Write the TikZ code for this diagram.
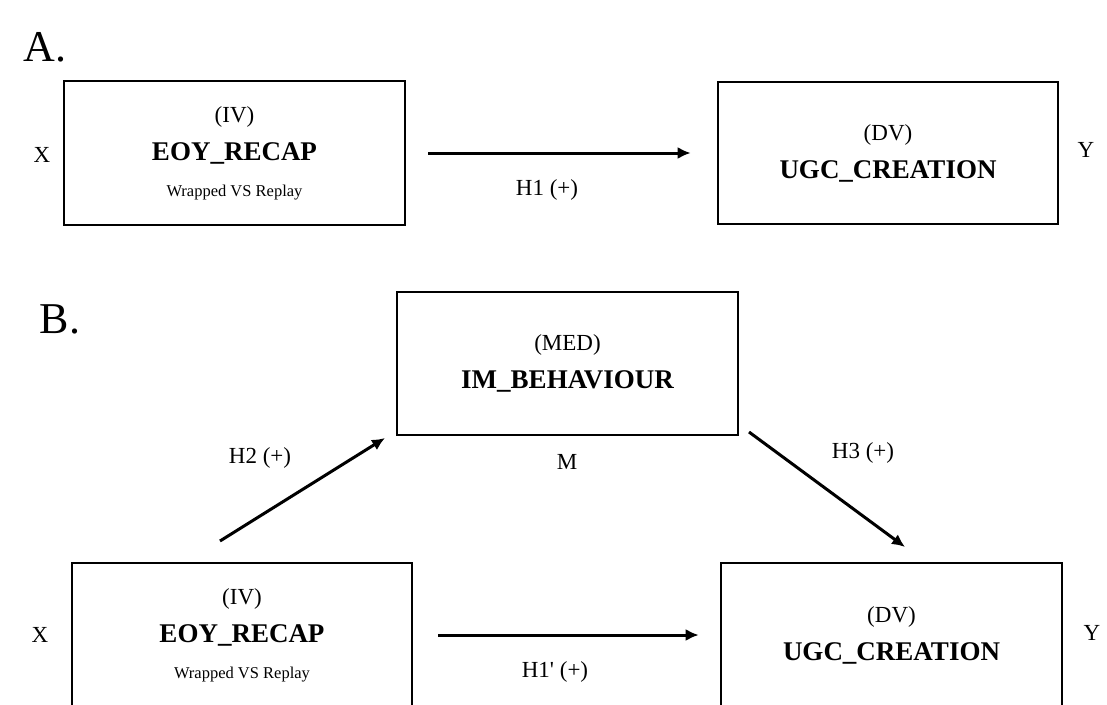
\documentclass[tikz,border=0pt]{standalone}
\usepackage{fontspec}
\setmainfont{Liberation Serif}
\usepackage{tikz}
\usetikzlibrary{arrows.meta,positioning}

\begin{document}
\begin{tikzpicture}[x=1pt,y=-1pt,
 b/.style={draw,line width=2.6pt,align=center,inner sep=0pt,minimum width=341pt,minimum height=144pt,font=\fontsize{23}{28}\selectfont},
 ar/.style={-{Latex[length=13pt,width=12pt]},line width=3pt},
 lb/.style={font=\fontsize{23}{26}\selectfont},
 sec/.style={font=\fontsize{44}{48}\selectfont}]
\clip (0,0) rectangle (1107,704);
% section A
\node[sec] (secA) at (45,47) {A.};
\node[b] (ivA) at (234.5,153) {(IV)\\[10pt] {\fontsize{27}{28}\selectfont\bfseries EOY\_RECAP}\\[8pt] {\fontsize{16.5}{20}\selectfont Wrapped VS Replay}};
\node[b,minimum width=340pt,minimum height=142pt] (dvA) at (888,153) {(DV)\\[10pt] {\fontsize{27}{28}\selectfont\bfseries UGC\_CREATION}};
\node[lb] (xA) at (42,155) {X};
\node[lb] (yA) at (1086,150) {Y};
\draw[ar,shorten <=22pt,shorten >=26pt] (ivA) -- (dvA);
\node[lb] (h1) at (547,190) {H1 (+)};
% section B
\node[sec] (secB) at (60,319) {B.};
\node[b,minimum height=143pt] (med) at (567.5,363.5) {(MED)\\[10pt] {\fontsize{27}{28}\selectfont\bfseries IM\_BEHAVIOUR}};
\node[lb] (mB) at (567,462) {M};
\node[b,minimum width=340pt] (ivB) at (242,635) {(IV)\\[10pt] {\fontsize{27}{28}\selectfont\bfseries EOY\_RECAP}\\[8pt] {\fontsize{16.5}{20}\selectfont Wrapped VS Replay}};
\node[b] (dvB) at (891.5,635) {(DV)\\[10pt] {\fontsize{27}{28}\selectfont\bfseries UGC\_CREATION}};
\node[lb] (xB) at (40,635) {X};
\node[lb] (yB) at (1092,633) {Y};
\coordinate (h2s) at (220,541); \coordinate (h2e) at (385,438);
\coordinate (h3s) at (749,432); \coordinate (h3e) at (905,547);
\draw[ar] (h2s) -- (h2e);
\draw[ar] (h3s) -- (h3e);
\draw[ar,shorten <=25pt,shorten >=21pt] (ivB) -- (dvB);
\node[lb] (h2) at (260,458) {H2 (+)};
\node[lb] (h3) at (863,453) {H3 (+)};
\node[lb] (h1p) at (555,672) {H1\textquotesingle{} (+)};
\end{tikzpicture}
\end{document}
